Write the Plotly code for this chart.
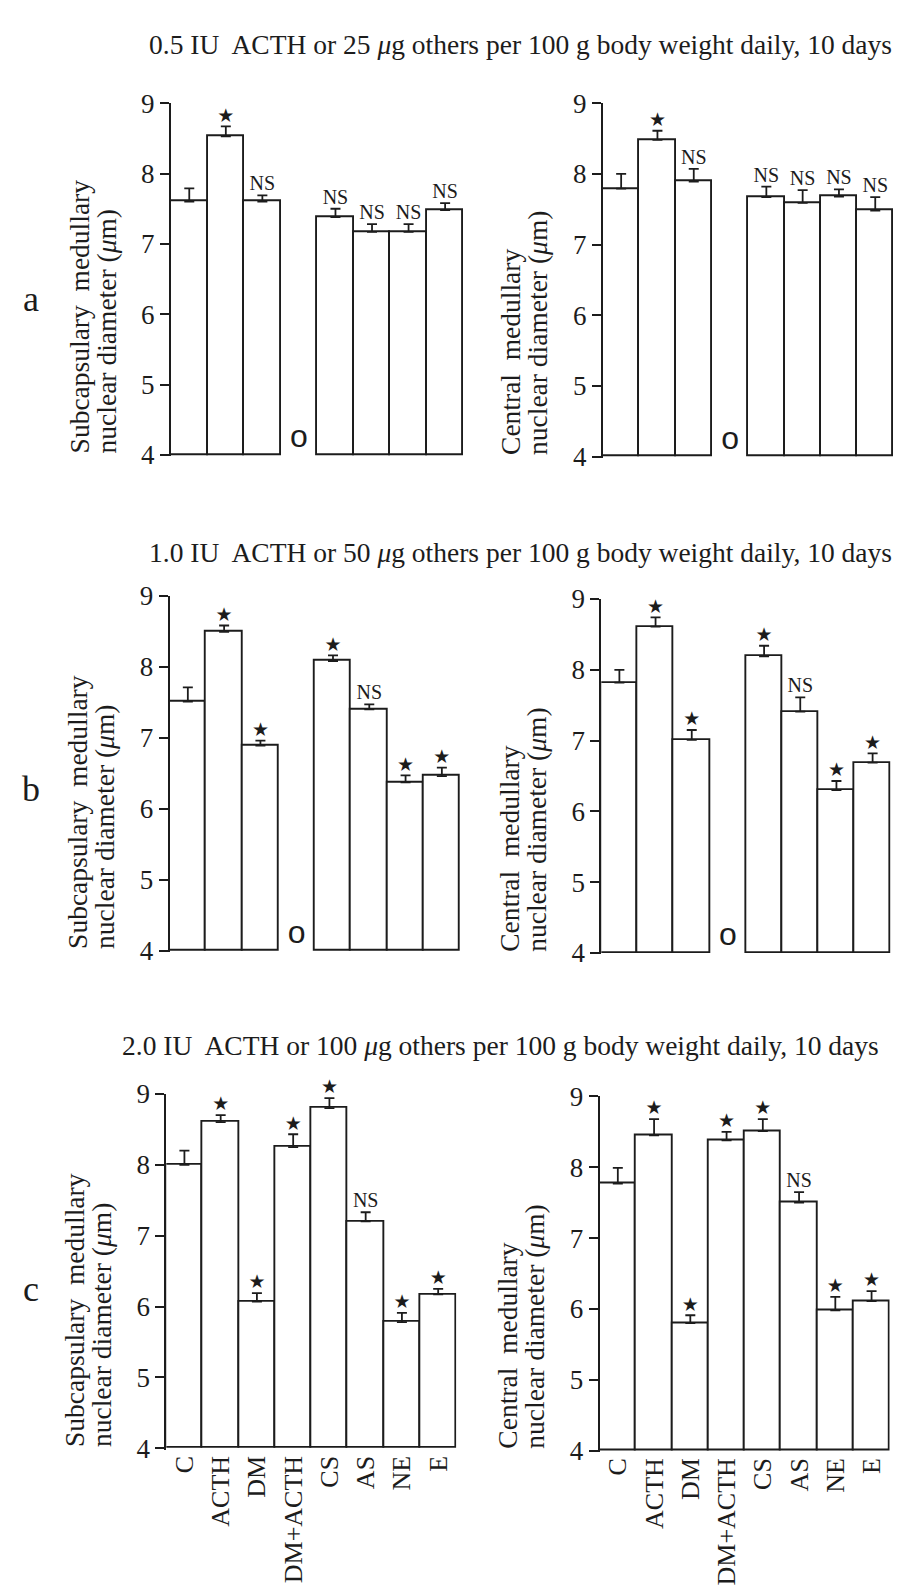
import plotly.graph_objects as go

# ---------------- data ----------------
categories = ["C", "ACTH", "DM", "DM+ACTH", "CS", "AS", "NE", "E"]

a_sub = [7.60, 8.53, 7.60, None, 7.38, 7.17, 7.17, 7.48]
a_sub_err = [0.19, 0.14, 0.09, None, 0.12, 0.11, 0.11, 0.10]
a_sub_sig = ["", "★", "NS", "", "NS", "NS", "NS", "NS"]

a_cen = [7.79, 8.48, 7.89, None, 7.67, 7.59, 7.68, 7.48]
a_cen_err = [0.21, 0.13, 0.18, None, 0.15, 0.18, 0.10, 0.19]
a_cen_sig = ["", "★", "NS", "", "NS", "NS", "NS", "NS"]

b_sub = [7.51, 8.49, 6.89, None, 8.08, 7.40, 6.37, 6.46]
b_sub_err = [0.20, 0.09, 0.07, None, 0.08, 0.07, 0.10, 0.12]
b_sub_sig = ["", "★", "★", "", "★", "NS", "★", "★"]

b_cen = [7.82, 8.61, 7.01, None, 8.19, 7.41, 6.30, 6.69]
b_cen_err = [0.18, 0.13, 0.14, None, 0.15, 0.20, 0.13, 0.13]
b_cen_sig = ["", "★", "★", "", "★", "NS", "★", "★"]

c_sub = [8.00, 8.60, 6.07, 8.25, 8.80, 7.20, 5.78, 6.17]
c_sub_err = [0.20, 0.10, 0.12, 0.18, 0.14, 0.13, 0.13, 0.08]
c_sub_sig = ["", "★", "★", "★", "★", "NS", "★", "★"]

c_cen = [7.77, 8.45, 5.80, 8.38, 8.51, 7.50, 5.98, 6.11]
c_cen_err = [0.22, 0.23, 0.11, 0.12, 0.17, 0.15, 0.19, 0.14]
c_cen_sig = ["", "★", "★", "★", "★", "NS", "★", "★"]

missing_mark = "o"   # shown where a group was not tested
y_ticks = [4, 5, 6, 7, 8, 9]
BASE = 4

titles = [
    "0.5 IU  ACTH or 25 <i>μ</i>g others per 100 g body weight daily, 10 days",
    "1.0 IU  ACTH or 50 <i>μ</i>g others per 100 g body weight daily, 10 days",
    "2.0 IU  ACTH or 100 <i>μ</i>g others per 100 g body weight daily, 10 days",
]
panel_letters = ["a", "b", "c"]
ytitle_left = ["Subcapsulary\u00a0 medullary", "nuclear diameter (<i>μ</i>m)"]
ytitle_right = ["Central\u00a0 medullary", "nuclear diameter (<i>μ</i>m)"]

# ---------------- layout geometry (pixels) ----------------
W, H = 907, 1595
def fx(p):
    return p / W
def fy(p):
    return 1 - p / H

# (x_left, x_right, y_top, y_bottom) of each plot area
geom = [
    (163.0, 455.4, 81.7, 441.4),
    (595.0, 885.4, 81.7, 443.0),
    (161.7, 452.0, 583.3, 946.4),
    (593.3, 882.7, 586.7, 948.7),
    (158.3, 448.3, 1090.7, 1453.1),
    (591.7, 881.7, 1093.3, 1455.4),
]
series = [
    (a_sub, a_sub_err, a_sub_sig),
    (a_cen, a_cen_err, a_cen_sig),
    (b_sub, b_sub_err, b_sub_sig),
    (b_cen, b_cen_err, b_cen_sig),
    (c_sub, c_sub_err, c_sub_sig),
    (c_cen, c_cen_err, c_cen_sig),
]

INK = "#1c1c1c"
SERIF = "Liberation Serif, Times New Roman, serif"

fig = go.Figure()
layout = dict(
    width=W, height=H,
    margin=dict(l=0, r=0, t=0, b=0),
    paper_bgcolor="white", plot_bgcolor="white",
    showlegend=False,
    bargap=0,
    annotations=[],
)

for i, ((vals, errs, sig), (xl, xr, yt, yb)) in enumerate(zip(series, geom)):
    k = i + 1
    xa = "x" if k == 1 else f"x{k}"
    ya = "y" if k == 1 else f"y{k}"
    bar_y = [None if v is None else v - BASE for v in vals]
    err_plus = [0 if e is None else e for e in errs]
    fig.add_trace(go.Bar(
        x=categories, y=bar_y, base=BASE,
        marker=dict(color="white", line=dict(color=INK, width=1.9)),
        error_y=dict(type="data", symmetric=False, array=err_plus,
                     arrayminus=[0] * len(err_plus),
                     color=INK, thickness=1.8, width=5),
        width=1.0,
        xaxis=xa, yaxis=ya, hoverinfo="skip",
    ))
    # significance labels
    tops = [None if v is None else v + e for v, e in zip(vals, err_plus)]
    fams = ["DejaVu Sans" if s == "★" else SERIF for s in sig]
    sizes = [19 if s == "★" else 20 for s in sig]
    fig.add_trace(go.Scatter(
        x=categories, y=tops, mode="text", text=sig,
        textposition="top center",
        textfont=dict(family=fams, size=sizes, color=INK),
        cliponaxis=False, xaxis=xa, yaxis=ya, hoverinfo="skip",
    ))
    # missing group mark
    miss_x = [c for c, v in zip(categories, vals) if v is None]
    if miss_x:
        fig.add_trace(go.Scatter(
            x=miss_x, y=[BASE] * len(miss_x), mode="text",
            text=[missing_mark] * len(miss_x), textposition="top center",
            textfont=dict(family="Liberation Sans, Arial, sans-serif", size=32, color=INK),
            cliponaxis=False, xaxis=xa, yaxis=ya, hoverinfo="skip",
        ))

    xkey = "xaxis" if k == 1 else f"xaxis{k}"
    ykey = "yaxis" if k == 1 else f"yaxis{k}"
    show_x = i >= 4
    layout[xkey] = dict(
        domain=[fx(xl), fx(xr)], anchor=ya,
        type="category", categoryorder="array", categoryarray=categories,
        range=[-0.5, len(categories) - 0.5],
        showline=False, showgrid=False, zeroline=False, ticks="",
        showticklabels=show_x, tickangle=-90,
        tickfont=dict(family=SERIF, size=26, color=INK),
    )
    layout[ykey] = dict(
        domain=[fy(yb), fy(yt)], anchor=xa,
        range=[3.98, 9.0], tickvals=y_ticks,
        showline=True, linecolor=INK, linewidth=2,
        ticks="outside", ticklen=9, tickwidth=2, tickcolor=INK,
        showgrid=False, zeroline=False,
        tickfont=dict(family=SERIF, size=27, color=INK),
    )

    # y-axis titles (two lines, bottom aligned)
    lines = ytitle_left if i % 2 == 0 else ytitle_right
    for j, (line, off) in enumerate(zip(lines, [-92, -65])):
        layout["annotations"].append(dict(
            text=line, textangle=-90, showarrow=False,
            xref="paper", yref="paper",
            x=fx(xl + off), y=fy(yb - 1),
            xanchor="center", yanchor="bottom",
            font=dict(family=SERIF, size=27.5, color=INK),
        ))

# panel titles and letters
title_pos = [(512, 22), (512, 539), (492, 1041)]
letter_pos = [(23, 281), (23, 780), (23, 1289)]
for t, (tx, ty), L, (lx, ly) in zip(titles, title_pos, panel_letters, letter_pos):
    layout["annotations"].append(dict(
        text=t, showarrow=False, xref="paper", yref="paper",
        x=fx(tx), y=fy(ty), xanchor="center", yanchor="middle",
        font=dict(family=SERIF, size=27.5, color=INK),
    ))
    layout["annotations"].append(dict(
        text=L, showarrow=False, xref="paper", yref="paper",
        x=fx(lx), y=fy(ly), xanchor="center", yanchor="middle",
        font=dict(family=SERIF, size=36, color=INK),
    ))

fig.update_layout(**layout)
fig.write_html("out.html")
